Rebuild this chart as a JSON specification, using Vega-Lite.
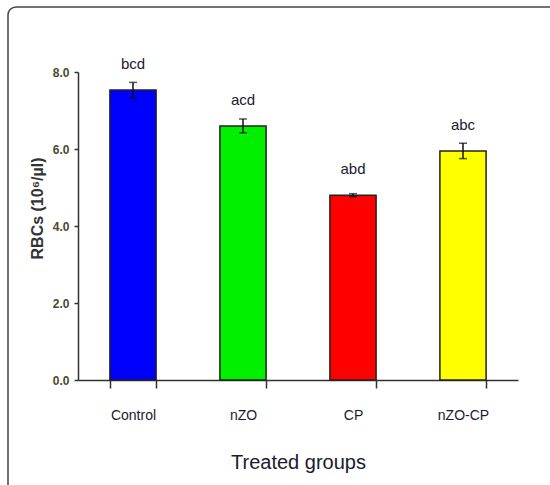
{
  "$schema": "https://vega.github.io/schema/vega-lite/v6.json",
  "width": 560,
  "height": 492,
  "autosize": {"type": "none"},
  "padding": {"left": 8, "top": 7, "right": 0, "bottom": 0},
  "background": "white",
  "config": {
    "view": {"stroke": "#444", "strokeWidth": 1.5, "cornerRadius": 8},
    "font": "Liberation Sans, Arial, sans-serif"
  },
  "data": {
    "values": [
      {"group": "Control", "mean": 7.53, "err": 0.2, "sig": "bcd"},
      {"group": "nZO", "mean": 6.6, "err": 0.18, "sig": "acd"},
      {"group": "CP", "mean": 4.8, "err": 0.04, "sig": "abd"},
      {"group": "nZO-CP", "mean": 5.95, "err": 0.2, "sig": "abc"}
    ]
  },
  "encoding": {
    "x": {
      "field": "group",
      "type": "nominal",
      "sort": null,
      "scale": {"range": [70, 510], "paddingInner": 0.58, "paddingOuter": 0.29},
      "axis": {
        "title": "Treated groups",
        "orient": "bottom",
        "offset": -119,
        "labelAngle": 0,
        "tickBand": "extent",
        "tickSize": 8,
        "tickColor": "#333",
        "tickWidth": 1.5,
        "domainColor": "#333",
        "domainWidth": 1.5,
        "labelPadding": 20,
        "labelFontSize": 14,
        "labelColor": "#1a1a2e",
        "titleFontSize": 20,
        "titleFontWeight": "normal",
        "titleColor": "#1a1a2e",
        "titlePadding": 30
      }
    },
    "y": {
      "field": "mean",
      "type": "quantitative",
      "scale": {"domain": [0, 8], "range": [373, 65], "nice": false, "zero": true},
      "axis": {
        "title": "RBCs (10⁶/µl)",
        "offset": -70,
        "values": [0, 2, 4, 6, 8],
        "format": ".1f",
        "grid": false,
        "tickSize": 4,
        "tickColor": "#333",
        "tickWidth": 1.5,
        "domainColor": "#333",
        "domainWidth": 1.5,
        "labelPadding": 5,
        "labelFontSize": 12,
        "labelFontWeight": "bold",
        "labelColor": "#4a4a2a",
        "titleFontSize": 16,
        "titleFontWeight": "bold",
        "titleColor": "#333",
        "titlePadding": 7,
        "titleY": 201
      }
    }
  },
  "layer": [
    {
      "mark": {"type": "bar", "stroke": "#222", "strokeWidth": 1.5},
      "encoding": {
        "color": {
          "field": "group",
          "type": "nominal",
          "sort": null,
          "scale": {"domain": ["Control", "nZO", "CP", "nZO-CP"], "range": ["#0000ff", "#00f000", "#ff0000", "#ffff00"]},
          "legend": null
        }
      }
    },
    {
      "mark": {"type": "errorbar", "ticks": {"size": 8, "color": "#111"}, "color": "#111", "thickness": 1.5},
      "encoding": {
        "y": {"field": "mean", "type": "quantitative"},
        "yError": {"field": "err"}
      }
    },
    {
      "mark": {"type": "text", "baseline": "bottom", "dy": -18, "fontSize": 15, "color": "#1a1a2e"},
      "encoding": {"text": {"field": "sig"}}
    }
  ]
}
